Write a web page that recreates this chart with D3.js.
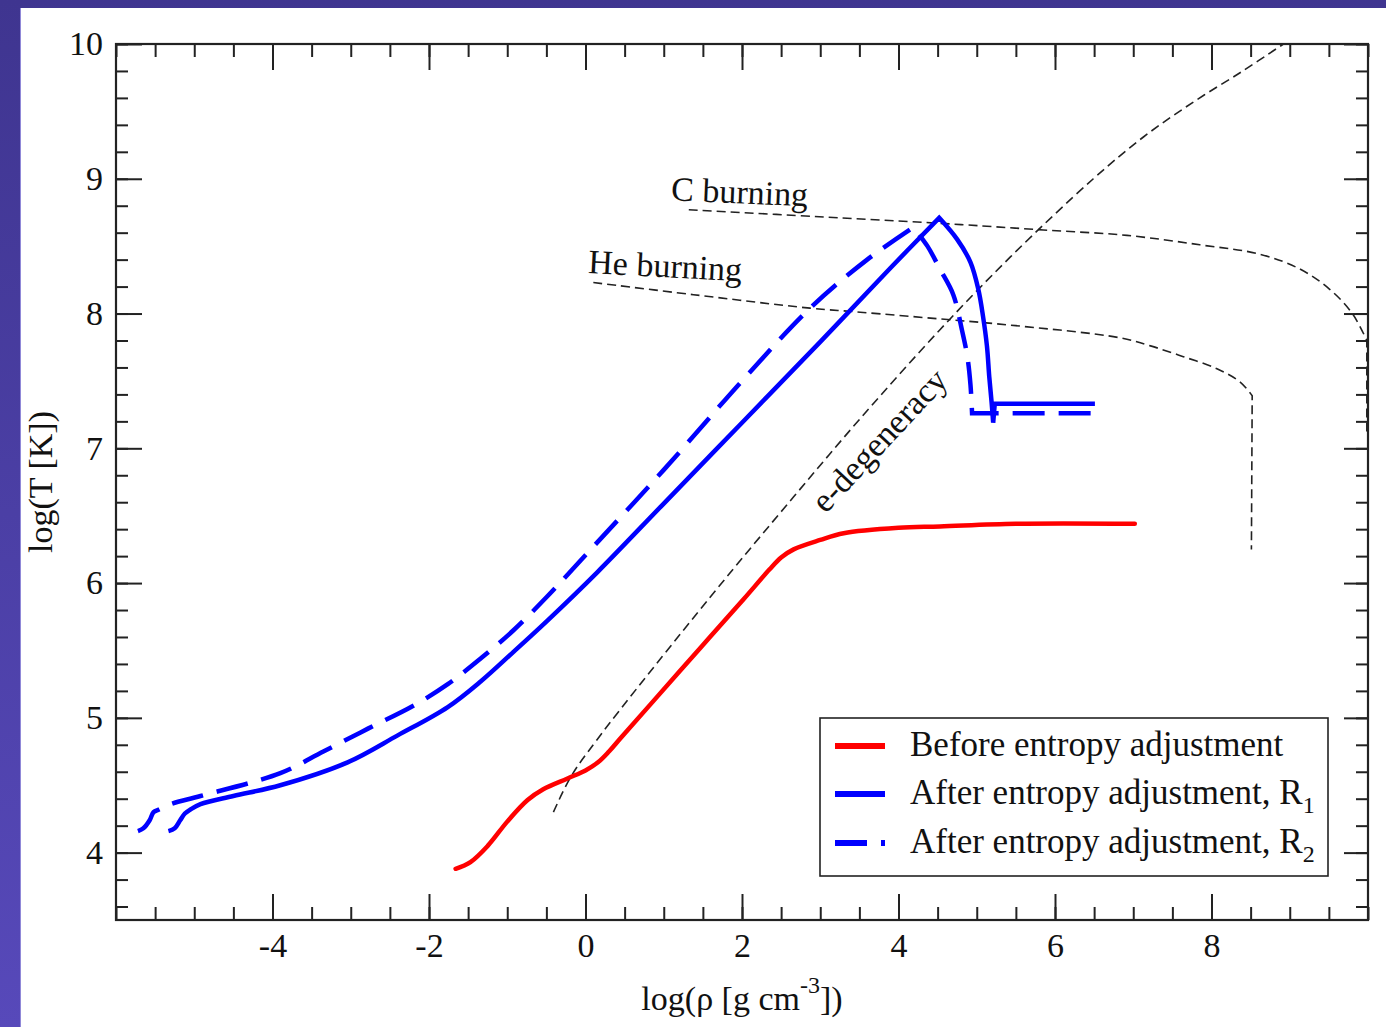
<!DOCTYPE html>
<html><head><meta charset="utf-8">
<script src="https://cdn.jsdelivr.net/npm/d3@7"></script>
<style>html,body{margin:0;padding:0;overflow:hidden;background:#4a3fa6}</style>
</head><body><svg id="c" width="1386" height="1027"></svg>
<script>
// ---- data ----
const xTickValues = [-4, -2, 0, 2, 4, 6, 8];
const yTickValues = [4, 5, 6, 7, 8, 9, 10];
const xDomain = [-6, 10];
const yDomain = [3.5, 10];

const seriesNames = ["Before entropy adjustment", "After entropy adjustment, R", "After entropy adjustment, R"];
const seriesSubs = ["", "1", "2"];

const beforeAdj = [[-1.66,3.88],[-1.47,3.93],[-1.25,4.05],[-1.0,4.23],[-0.74,4.39],[-0.54,4.47],[-0.23,4.55],[0.0,4.61],[0.16,4.67],[0.30,4.75],[0.45,4.85],[0.83,5.10],[1.47,5.52],[2.02,5.88],[2.35,6.10],[2.50,6.19],[2.66,6.25],[3.0,6.32],[3.30,6.37],[4.0,6.41],[4.53,6.42],[5.5,6.44],[7.02,6.44]];

const afterR1 = [[-5.33,4.16],[-5.25,4.18],[-5.18,4.24],[-5.12,4.29],[-5.05,4.32],[-4.92,4.36],[-4.50,4.42],[-3.90,4.50],[-3.04,4.67],[-2.40,4.87],[-1.76,5.08],[-1.34,5.27],[-0.92,5.49],[-0.49,5.72],[0.15,6.08],[1.0,6.59],[2.0,7.19],[3.0,7.79],[3.9,8.34],[4.52,8.71],[4.75,8.55],[4.92,8.38],[5.02,8.18],[5.08,7.98],[5.13,7.76],[5.16,7.53],[5.19,7.34],[5.21,7.19],[5.23,7.33],[6.51,7.33]];
const afterR1Corners = [19, 27, 28];

const afterR2 = [[-5.72,4.16],[-5.65,4.18],[-5.57,4.24],[-5.52,4.30],[-5.45,4.32],[-5.30,4.36],[-4.92,4.42],[-3.90,4.59],[-3.35,4.75],[-2.78,4.92],[-2.20,5.09],[-1.76,5.25],[-1.34,5.44],[-0.92,5.65],[-0.49,5.90],[-0.06,6.17],[1.0,6.84],[2.0,7.50],[2.87,8.04],[3.6,8.40],[4.19,8.64],[4.37,8.50],[4.53,8.33],[4.70,8.14],[4.81,7.88],[4.88,7.68],[4.92,7.47],[4.94,7.26],[6.51,7.26]];
const afterR2Corners = [20, 27];

const cBurning = [[1.32,8.77],[3.26,8.71],[4.80,8.66],[5.85,8.62],[6.92,8.58],[7.85,8.51],[8.62,8.44],[9.13,8.33],[9.51,8.18],[9.80,8.00],[9.985,7.80],[9.985,7.12]];
const cBurningCorners = [10];

const heBurning = [[0.10,8.23],[1.38,8.14],[2.87,8.04],[3.51,8.01],[4.53,7.96],[5.5,7.91],[6.83,7.82],[7.22,7.76],[7.64,7.68],[8.07,7.59],[8.37,7.49],[8.52,7.39],[8.51,6.25]];
const heBurningCorners = [11];

const eDegeneracy = [[-0.41,4.30],[-0.19,4.56],[0.15,4.84],[1.60,5.90],[2.66,6.64],[3.51,7.22],[4.53,7.88],[5.43,8.42],[6.49,9.00],[7.13,9.31],[7.77,9.57],[8.40,9.80],[8.92,10.0]];

// annotation anchors in data coordinates
const annotations = [
  {text:"C burning", x:1.09, y:8.84, rot:2.5},
  {text:"He burning", x:0.03, y:8.30, rot:3},
  {text:"e-degeneracy", x:3.07, y:6.51, rot:-47}
];

// ---- drawing ----
const W = 1386, H = 1027;
const L = 116, R = 1368, T = 44, B = 920;
const FONT = "'Liberation Serif','Times New Roman',serif";
const svg = d3.select("#c");

const defs = svg.append("defs");
const grad = defs.append("linearGradient").attr("id","bg").attr("x1",0).attr("y1",0).attr("x2",0).attr("y2",1);
grad.append("stop").attr("offset","0%").attr("stop-color","#3f3590");
grad.append("stop").attr("offset","100%").attr("stop-color","#5749ba");
defs.append("clipPath").attr("id","clip").append("rect").attr("x",L).attr("y",T).attr("width",R-L).attr("height",B-T);

svg.append("rect").attr("width",W).attr("height",H).attr("fill","url(#bg)");
svg.append("rect").attr("x",21).attr("y",8).attr("width",W-21).attr("height",H-8).attr("fill","#fff");
svg.append("line").attr("x1",20.5).attr("x2",20.5).attr("y1",8).attr("y2",H).attr("stroke","#9088d8").attr("stroke-width",1);

const x = d3.scaleLinear().domain(xDomain).range([L, R]);
const y = d3.scaleLinear().domain(yDomain).range([B, T]);

const xMinor = d3.range(xDomain[0], xDomain[1] + 1e-9, 0.5);
const yMinor = d3.range(yDomain[0] + 0.1, yDomain[1] + 1e-9, 0.2).map(v => Math.round(v*10)/10);

function styleAxis(g){
  g.select(".domain").remove();
  g.selectAll(".tick line").attr("stroke","#222").attr("stroke-width",2);
  g.selectAll(".tick text").attr("font-family",FONT).attr("font-size",34).attr("fill","#111");
}
const fmt = d => String(d);

// bottom
svg.append("g").attr("transform",`translate(0,${B})`).call(d3.axisBottom(x).tickValues(xMinor).tickSize(-13).tickFormat("")).call(styleAxis);
svg.append("g").attr("transform",`translate(0,${B})`).call(d3.axisBottom(x).tickValues(xTickValues).tickSize(-26).tickPadding(13).tickFormat(fmt)).call(styleAxis);
// top
svg.append("g").attr("transform",`translate(0,${T})`).call(d3.axisTop(x).tickValues(xMinor).tickSize(-13).tickFormat("")).call(styleAxis);
svg.append("g").attr("transform",`translate(0,${T})`).call(d3.axisTop(x).tickValues(xTickValues).tickSize(-26).tickFormat("")).call(styleAxis);
// left
svg.append("g").attr("transform",`translate(${L},0)`).call(d3.axisLeft(y).tickValues(yMinor).tickSize(-12).tickFormat("")).call(styleAxis);
svg.append("g").attr("transform",`translate(${L},0)`).call(d3.axisLeft(y).tickValues(yTickValues).tickSize(-26).tickPadding(13).tickFormat(fmt)).call(styleAxis);
// right
svg.append("g").attr("transform",`translate(${R},0)`).call(d3.axisRight(y).tickValues(yMinor).tickSize(-12).tickFormat("")).call(styleAxis);
svg.append("g").attr("transform",`translate(${R},0)`).call(d3.axisRight(y).tickValues(yTickValues).tickSize(-24).tickFormat("")).call(styleAxis);

// curves: smooth between corner points, sharp at corners
const line = d3.line().x(d => x(d[0])).y(d => y(d[1])).curve(d3.curveCatmullRom.alpha(0.5));
function pathWithCorners(data, corners){
  const cuts = [0, ...(corners || []), data.length - 1];
  let d = "";
  for (let i = 0; i < cuts.length - 1; i++) {
    const seg = data.slice(cuts[i], cuts[i+1] + 1);
    const s = line(seg);
    d += (i === 0) ? s : s.replace(/^M/, "L");
  }
  return d;
}
const plot = svg.append("g").attr("clip-path","url(#clip)");

[[cBurning, cBurningCorners], [heBurning, heBurningCorners], [eDegeneracy, []]].forEach(([data, c]) => {
  plot.append("path").attr("d", pathWithCorners(data, c)).attr("fill","none")
    .attr("stroke","#222").attr("stroke-width",1.6).attr("stroke-dasharray","9,5");
});

plot.append("path").attr("d", pathWithCorners(beforeAdj, [])).attr("fill","none")
  .attr("stroke","#ff0000").attr("stroke-width",4.5).attr("stroke-linecap","round");
plot.append("path").attr("d", pathWithCorners(afterR1, afterR1Corners)).attr("fill","none")
  .attr("stroke","#0000ff").attr("stroke-width",4.5).attr("stroke-linejoin","miter");
plot.append("path").attr("d", pathWithCorners(afterR2, afterR2Corners)).attr("fill","none")
  .attr("stroke","#0000ff").attr("stroke-width",4.5).attr("stroke-dasharray","32,14");

// frame
svg.append("rect").attr("x",L).attr("y",T).attr("width",R-L).attr("height",B-T)
  .attr("fill","none").attr("stroke","#222").attr("stroke-width",2.2);

// annotations
annotations.forEach(a => {
  svg.append("text").attr("transform",`translate(${x(a.x)},${y(a.y)}) rotate(${a.rot})`)
    .attr("font-family",FONT).attr("font-size",34).attr("fill","#111").text(a.text);
});

// axis titles
const xt = svg.append("text").attr("x",(L+R)/2).attr("y",1010).attr("text-anchor","middle")
  .attr("font-family",FONT).attr("font-size",34).attr("fill","#111");
xt.append("tspan").text("log(\u03c1 [g cm");
xt.append("tspan").attr("font-size",24).attr("dy",-17).text("-3");
xt.append("tspan").attr("dy",17).text("])");

svg.append("text").attr("transform",`translate(52,${(T+B)/2}) rotate(-90)`).attr("text-anchor","middle")
  .attr("font-family",FONT).attr("font-size",34).attr("fill","#111").text("log(T [K])");

// legend
const lg = svg.append("g");
lg.append("rect").attr("x",820).attr("y",718).attr("width",508).attr("height",158)
  .attr("fill","#fff").attr("stroke","#222").attr("stroke-width",1.6);
const legendStyles = [
  {color:"#ff0000", dash:null},
  {color:"#0000ff", dash:null},
  {color:"#0000ff", dash:"32,14"}
];
const rowY = [746, 794, 843];
seriesNames.forEach((name, i) => {
  const ln = lg.append("line").attr("x1",835).attr("x2",885).attr("y1",rowY[i]).attr("y2",rowY[i])
    .attr("stroke",legendStyles[i].color).attr("stroke-width",6);
  if (legendStyles[i].dash) ln.attr("stroke-dasharray",legendStyles[i].dash);
  const t = lg.append("text").attr("x",910).attr("y",rowY[i]+10)
    .attr("font-family",FONT).attr("font-size",35).attr("fill","#111");
  t.append("tspan").text(name);
  if (seriesSubs[i]) t.append("tspan").attr("font-size",24).attr("dy",9).text(seriesSubs[i]);
});
</script>
</body></html>
